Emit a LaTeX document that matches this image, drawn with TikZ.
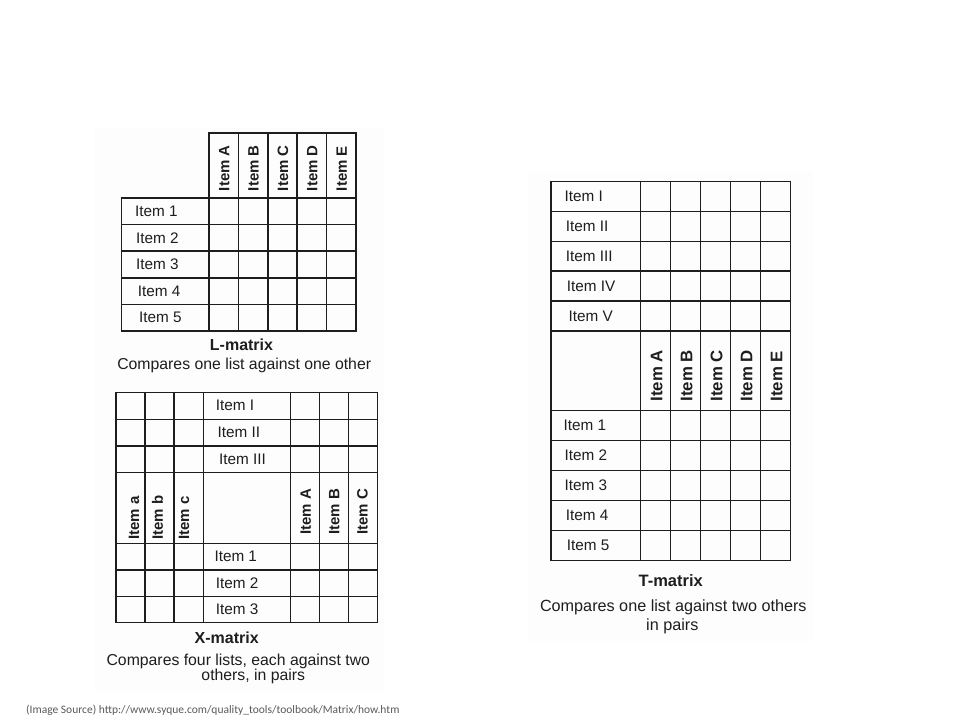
\documentclass[tikz,border=0pt]{standalone}
\usepackage{fontspec}
\setmainfont{Liberation Sans}
\newfontfamily\srcfont{Carlito}
\definecolor{panelbg}{HTML}{FDFDFD}
\definecolor{gridcol}{HTML}{1E1E1E}
\definecolor{srcgray}{HTML}{5A5A5A}
\tikzset{
  gridline/.style={line width=1.5pt, draw=gridcol, line cap=rect},
  panel/.style={fill=panelbg, draw=none},
  lbl/.style={font=\fontsize{15.3}{18}\selectfont, anchor=west, inner sep=0pt, text=gridcol},
  rotl/.style={font=\fontsize{15}{18}\selectfont\bfseries, rotate=90, anchor=west, inner sep=0pt, text=gridcol},
  rotlt/.style={font=\fontsize{16.8}{19}\selectfont\bfseries, rotate=90, anchor=west, inner sep=0pt, text=gridcol},
  captitle/.style={font=\fontsize{16}{19}\selectfont\bfseries, anchor=base, inner sep=0pt, text=gridcol},
  capdesc/.style={font=\fontsize{15.8}{19}\selectfont, anchor=base, inner sep=0pt, text=gridcol},
}
\begin{document}
\begin{tikzpicture}[x=1pt,y=-1pt]
\useasboundingbox (0,0) rectangle (960,720);
\fill[white] (0,0) rectangle (960,720);
% faint panels
\path[panel] (95,128) rectangle (384,693);
\path[panel] (528,172) rectangle (813,641);

% ===== L-matrix =====
\draw[gridline] (209,133) rectangle (356,331);
\draw[gridline] (121.7,198) rectangle (356,331);
\foreach \x in {238.4,267.8,297.2,326.6} \draw[gridline] (\x,133) -- (\x,331);
\foreach \y in {224.6,251.2,277.8,304.4} \draw[gridline] (121.7,\y) -- (356,\y);
\node[rotl] (LA) at (224.2,191.3) {Item A};
\node[rotl] (LB) at (253.6,191.3) {Item B};
\node[rotl] (LC) at (283.0,191.3) {Item C};
\node[rotl] (LD) at (312.4,191.3) {Item D};
\node[rotl] (LE) at (341.8,191.3) {Item E};
\node[lbl] (L1) at (135,211.3) {Item 1};
\node[lbl] (L2) at (136,237.9) {Item 2};
\node[lbl] (L3) at (136,264.5) {Item 3};
\node[lbl] (L4) at (137.7,291.1) {Item 4};
\node[lbl] (L5) at (139,317.7) {Item 5};
\node[captitle] (Ltitle) at (241.5,350.6) {L-matrix};
\node[capdesc] (Ldesc) at (244.2,369.5) {Compares one list against one other};

% ===== X-matrix =====
\draw[gridline] (116,392.3) rectangle (377.3,622.7);
\foreach \x in {145,174,203.3,290.3,319.3,348.3} \draw[gridline] (\x,392.3) -- (\x,622.7);
\foreach \y in {419.3,446,472.3,543.3,570,596.3} \draw[gridline] (116,\y) -- (377.3,\y);
\node[lbl] (XI) at (215.7,405.8) {Item I};
\node[lbl] (XII) at (217.3,432.7) {Item II};
\node[lbl] (XIII) at (219,459.2) {Item III};
\node[lbl] (X1) at (214.3,556.7) {Item 1};
\node[lbl] (X2) at (215.7,583.2) {Item 2};
\node[lbl] (X3) at (215.7,609.5) {Item 3};
\node[rotl] (Xa) at (134,540) {Item a};
\node[rotl] (Xb) at (157.5,540) {Item b};
\node[rotl] (Xc) at (184,540) {Item c};
\node[rotl] (XA) at (305.8,535) {Item A};
\node[rotl] (XB) at (334.2,535) {Item B};
\node[rotl] (XC) at (362.5,535) {Item C};
\node[captitle] (Xtitle) at (226.7,643.5) {X-matrix};
\node[capdesc] (Xdesc1) at (238.3,665) {Compares four lists, each against two};
\node[capdesc] (Xdesc2) at (253.3,680) {others, in pairs};

% ===== T-matrix =====
\draw[gridline] (551,181.7) rectangle (790.7,560.7);
\foreach \x in {640.7,670.7,700.7,730.7,760.7} \draw[gridline] (\x,181.7) -- (\x,560.7);
\foreach \y in {211.5,241.3,271,301,331,410.7,440.7,470.7,500.7,530.7} \draw[gridline] (551,\y) -- (790.7,\y);
\node[lbl] (TI) at (564.3,196.6) {Item I};
\node[lbl] (TII) at (565.7,226.4) {Item II};
\node[lbl] (TIII) at (565.7,256.2) {Item III};
\node[lbl] (TIV) at (566.7,286) {Item IV};
\node[lbl] (TV) at (568.3,316) {Item V};
\node[rotlt] (TA) at (656.7,401.7) {Item A};
\node[rotlt] (TB) at (686.7,401.7) {Item B};
\node[rotlt] (TC) at (716.7,401.7) {Item C};
\node[rotlt] (TD) at (746.7,401.7) {Item D};
\node[rotlt] (TE) at (776.7,401.7) {Item E};
\node[lbl] (T1) at (563.3,425.7) {Item 1};
\node[lbl] (T2) at (564.3,455.7) {Item 2};
\node[lbl] (T3) at (564.3,485.7) {Item 3};
\node[lbl] (T4) at (565.7,515.7) {Item 4};
\node[lbl] (T5) at (566.7,545.7) {Item 5};
\node[captitle,font=\fontsize{16.5}{19}\selectfont\bfseries] (Ttitle) at (670.7,586.7) {T-matrix};
\node[capdesc,font=\fontsize{16.2}{19}\selectfont] (Tdesc1) at (673.3,611.7) {Compares one list against two others};
\node[capdesc,font=\fontsize{16.2}{19}\selectfont] (Tdesc2) at (672.3,630) {in pairs};

% ===== source =====
\node[anchor=west, inner sep=0pt, font=\srcfont\fontsize{11.5}{13}\selectfont, text=srcgray] (src) at (26,710) {(Image Source) http://www.syque.com/quality\_tools/toolbook/Matrix/how.htm};
\end{tikzpicture}
\end{document}
